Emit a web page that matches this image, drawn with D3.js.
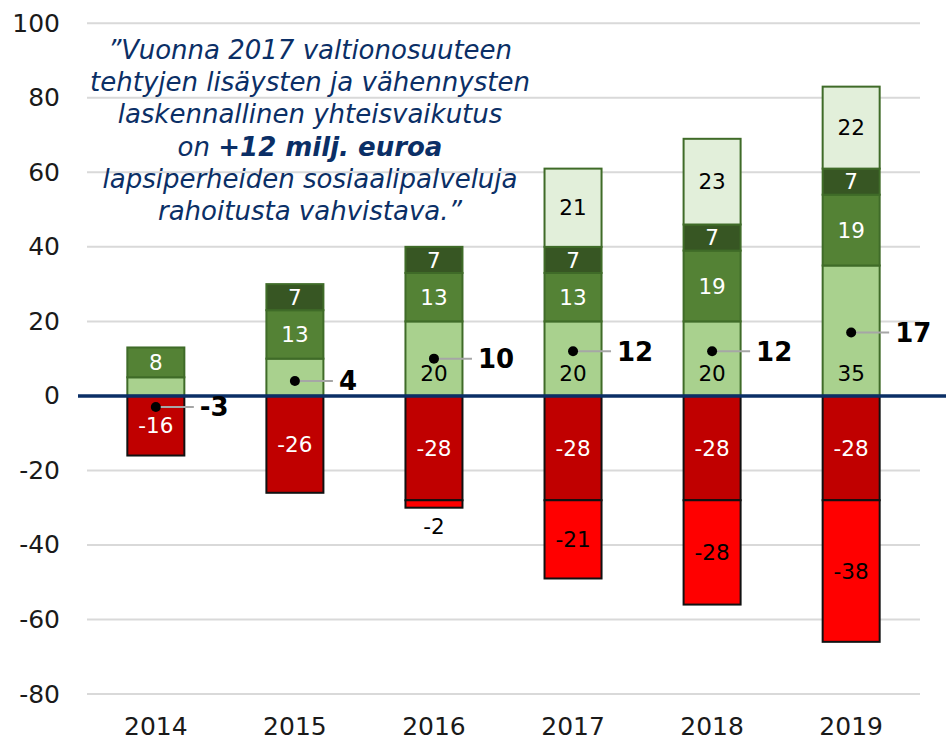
<!DOCTYPE html>
<html>
<head>
<meta charset="utf-8">
<script src="https://cdn.jsdelivr.net/npm/d3@7"></script>
<style>
  html, body { margin: 0; padding: 0; background: #fff; }
  svg { display: block; font-family: "DejaVu Sans", Verdana, sans-serif; }
</style>
</head>
<body>
<svg id="chart" width="946" height="741"></svg>
<script>
// ---- data ----
const years = ["2014", "2015", "2016", "2017", "2018", "2019"];
const lightGreen = [5, 10, 20, 20, 20, 35];
const mediumGreen = [8, 13, 13, 13, 19, 19];
const darkGreen = [0, 7, 7, 7, 7, 7];
const paleGreen = [0, 0, 0, 21, 23, 22];
const darkRed = [-16, -26, -28, -28, -28, -28];
const brightRed = [0, 0, -2, -21, -28, -38];
const netEffect = [-3, 4, 10, 12, 12, 17];
const yTicks = [-80, -60, -40, -20, 0, 20, 40, 60, 80, 100];
const noteLines = [
  [{t: "\u201DVuonna 2017 valtionosuuteen"}],
  [{t: "tehtyjen lisäysten ja vähennysten"}],
  [{t: "laskennallinen yhteisvaikutus"}],
  [{t: "on "}, {t: "+12 milj. euroa", b: true}],
  [{t: "lapsiperheiden sosiaalipalveluja"}],
  [{t: "rahoitusta vahvistava.\u201D"}]
];

// ---- series definition ----
const posSeries = [
  {vals: lightGreen, fill: "#A9D18E", text: "#000", stroke: "#3F6B28", minLabel: 15},
  {vals: mediumGreen, fill: "#548235", text: "#fff", stroke: "#3F6B28", minLabel: 0},
  {vals: darkGreen, fill: "#375623", text: "#fff", stroke: "#3F6B28", minLabel: 0},
  {vals: paleGreen, fill: "#E2EFDA", text: "#000", stroke: "#3F6B28", minLabel: 0}
];
const negSeries = [
  {vals: darkRed, fill: "#C00000", text: "#fff", stroke: "#111"},
  {vals: brightRed, fill: "#FF0000", text: "#000", stroke: "#111"}
];

const svg = d3.select("#chart");
const left = 87, right = 920;
const y = d3.scaleLinear().domain([-80, 100]).range([694, 23.3]);
const x = d3.scaleBand().domain(years).range([left, right]).paddingInner(0.59).paddingOuter(0.29);

// gridlines
svg.append("g").selectAll("line").data(yTicks.filter(t => t !== 0)).join("line")
  .attr("x1", left).attr("x2", right)
  .attr("y1", d => y(d)).attr("y2", d => y(d))
  .attr("stroke", "#D9D9D9").attr("stroke-width", 2);

// y axis labels
const yAxis = d3.axisLeft(y).tickValues(yTicks).tickSize(0).tickPadding(0).tickFormat(d => String(d));
const gy = svg.append("g").attr("transform", "translate(60,0)").call(yAxis);
gy.select(".domain").remove();
gy.selectAll("text").attr("font-size", 25).attr("fill", "#1a1a1a")
  .attr("font-family", "DejaVu Sans, Verdana, sans-serif");

// x axis labels
const xAxis = d3.axisBottom(x).tickSize(0).tickPadding(0);
const gx = svg.append("g").attr("transform", "translate(0,717)").call(xAxis);
gx.select(".domain").remove();
gx.selectAll("text").attr("font-size", 25).attr("fill", "#1a1a1a")
  .attr("font-family", "DejaVu Sans, Verdana, sans-serif");

// build segments
const segs = [];
years.forEach((yr, i) => {
  let base = 0;
  posSeries.forEach(s => {
    const v = s.vals[i];
    if (v > 0) { segs.push({yr, y0: base, y1: base + v, v, s}); base += v; }
  });
  base = 0;
  negSeries.forEach(s => {
    const v = s.vals[i];
    if (v < 0) { segs.push({yr, y0: base, y1: base + v, v, s}); base += v; }
  });
});

const bw = x.bandwidth();
svg.append("g").selectAll("rect").data(segs).join("rect")
  .attr("x", d => x(d.yr))
  .attr("width", bw)
  .attr("y", d => y(Math.max(d.y0, d.y1)))
  .attr("height", d => Math.abs(y(d.y0) - y(d.y1)))
  .attr("fill", d => d.s.fill)
  .attr("stroke", d => d.s.stroke)
  .attr("stroke-width", 2);

// segment labels
svg.append("g").selectAll("text").data(segs.filter(d => Math.abs(d.v) >= (d.s.minLabel || 0))).join("text")
  .attr("x", d => x(d.yr) + bw / 2)
  .attr("y", d => {
    const h = Math.abs(y(d.y0) - y(d.y1));
    if (h < 18) return y(d.y1) + 19;            // tiny segment: label outside end
    if (d.s === posSeries[0]) return y(d.y0) - 23; // inside base
    return (y(d.y0) + y(d.y1)) / 2;
  })
  .attr("dy", "0.36em")
  .attr("text-anchor", "middle")
  .attr("font-size", 21.5)
  .attr("fill", d => Math.abs(y(d.y0) - y(d.y1)) < 18 ? "#000" : d.s.text)
  .text(d => d.v);

// zero line
svg.append("line")
  .attr("x1", 78).attr("x2", 946)
  .attr("y1", y(0)).attr("y2", y(0))
  .attr("stroke", "#0B2F66").attr("stroke-width", 3.5);

// net effect markers
const net = svg.append("g").selectAll("g").data(years).join("g");
net.append("line")
  .attr("x1", d => x(d) + bw / 2).attr("x2", d => x(d) + bw / 2 + 38)
  .attr("y1", (d, i) => y(netEffect[i])).attr("y2", (d, i) => y(netEffect[i]))
  .attr("stroke", "#A6A6A6").attr("stroke-width", 2);
net.append("circle")
  .attr("cx", d => x(d) + bw / 2)
  .attr("cy", (d, i) => y(netEffect[i]))
  .attr("r", 5).attr("fill", "#000");
net.append("text")
  .attr("x", d => x(d) + bw / 2 + 44)
  .attr("y", (d, i) => y(netEffect[i]))
  .attr("dy", "0.36em")
  .attr("font-size", 26).attr("font-weight", "bold").attr("fill", "#000")
  .text((d, i) => netEffect[i]);

// annotation
const note = svg.append("text")
  .attr("text-anchor", "middle")
  .attr("font-size", 26)
  .attr("font-style", "italic")
  .attr("fill", "#0B2F66");
noteLines.forEach((parts, i) => {
  const line = note.append("tspan").attr("x", 310).attr("y", 59 + i * 32.2);
  parts.forEach(p => {
    line.append("tspan").attr("font-weight", p.b ? "bold" : null).text(p.t);
  });
});
</script>
</body>
</html>
